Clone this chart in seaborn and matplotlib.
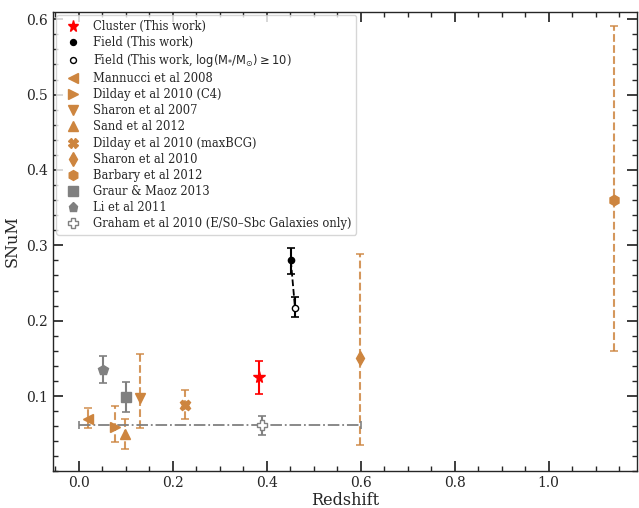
import numpy as np
import pandas as pd
import matplotlib
matplotlib.use("Agg")
import matplotlib.pyplot as plt
import seaborn as sns

# ---- data ----
labels = ["Cluster (This work)", "Field (This work)",
          r"Field (This work, $\mathrm{log(M_{*}/M_{\odot})\geq 10}$)",
          "Mannucci et al 2008", "Dilday et al 2010 (C4)", "Sharon et al 2007",
          "Sand et al 2012", "Dilday et al 2010 (maxBCG)", "Sharon et al 2010",
          "Barbary et al 2012", "Graur & Maoz 2013", "Li et al 2011",
          "Graham et al 2010 (E/S0\u2013Sbc Galaxies only)"]
z = [0.383, 0.451, 0.460, 0.020, 0.077, 0.130, 0.099, 0.225, 0.598, 1.138, 0.100, 0.052, 0.389]
snum = [0.125, 0.280, 0.217, 0.069, 0.059, 0.097, 0.049, 0.088, 0.150, 0.360, 0.099, 0.135, 0.061]
err_lo = [0.103, 0.262, 0.205, 0.057, 0.039, 0.058, 0.030, 0.069, 0.035, 0.160, 0.079, 0.117, 0.048]
err_hi = [0.147, 0.297, 0.232, 0.084, 0.087, 0.156, 0.069, 0.108, 0.289, 0.591, 0.119, 0.153, 0.074]
graham_zrange = [0.0, 0.6]

markers = ['*', 'o', 'o', '<', '>', 'v', '^', 'X', 'd', 'h', 's', 'p', 'P']
sizes = [8.5, 4.5, 4.5, 7, 7, 7.5, 7, 7.5, 7, 7.5, 7, 7, 7.5]
ORANGE = '#CD853F'
GRAY = '#808080'
colors = ['red', 'black', 'black'] + [ORANGE] * 7 + [GRAY, GRAY, GRAY]
faces = ['red', 'black', 'white'] + [ORANGE] * 7 + [GRAY, GRAY, 'white']

sns.set_theme(style="ticks")
plt.rcParams['font.family'] = ['DejaVu Serif']
plt.rcParams['mathtext.fontset'] = 'dejavusans'

fig, ax = plt.subplots(figsize=(6.39, 5.08), dpi=100)

# connecting dashed line for field points
sns.lineplot(x=z[1:3], y=snum[1:3], ax=ax, color='black', linestyle='--', lw=1.3, zorder=2)

for i in range(len(z)):
    yerr = [[snum[i] - err_lo[i]], [err_hi[i] - snum[i]]]
    if i < 3:
        ls, ecol, alpha = '-', colors[i], 1.0
    elif colors[i] == ORANGE:
        ls, ecol, alpha = '--', ORANGE, 0.85
    else:
        ls, ecol, alpha = '-', GRAY, 1.0
    eb = ax.errorbar([z[i]], [snum[i]], yerr=yerr, fmt='none', ecolor=ecol,
                     capsize=3, elinewidth=1.5, capthick=1.2, alpha=alpha, zorder=3)
    eb[-1][0].set_linestyle(ls)
    if i == len(z) - 1:
        xerr = [[z[i] - graham_zrange[0]], [graham_zrange[1] - z[i]]]
        eb2 = ax.errorbar([z[i]], [snum[i]], xerr=xerr, fmt='none', ecolor=GRAY,
                          capsize=3, elinewidth=1.3, capthick=1.2, zorder=3)
        eb2[-1][0].set_linestyle('-.')
    ax.plot([z[i]], [snum[i]], linestyle='none', marker=markers[i], ms=sizes[i],
            mfc=faces[i], mec=colors[i], mew=1.0, label=labels[i], zorder=4)

ax.set_xlim(-0.055, 1.188)
ax.set_ylim(0.0, 0.61)
ax.set_xlabel("Redshift", fontsize=11.5, labelpad=1)
ax.set_ylabel("SNuM", fontsize=11.5)
ax.xaxis.set_major_locator(matplotlib.ticker.MultipleLocator(0.2))
ax.xaxis.set_minor_locator(matplotlib.ticker.MultipleLocator(0.05))
ax.yaxis.set_major_locator(matplotlib.ticker.MultipleLocator(0.1))
ax.yaxis.set_minor_locator(matplotlib.ticker.MultipleLocator(0.02))
ax.set_yticks([0.1, 0.2, 0.3, 0.4, 0.5, 0.6])
ax.tick_params(which='both', direction='in', top=True, right=True, labelsize=10)
ax.tick_params(which='major', length=7)
ax.tick_params(which='minor', length=3.5)
for s in ax.spines.values():
    s.set_linewidth(1.0)

leg = ax.legend(loc='upper left', fontsize=8.3, frameon=True, borderaxespad=0.3,
                handletextpad=0.8, labelspacing=0.27, markerscale=0.95)

fig.subplots_adjust(left=0.083, right=0.997, bottom=0.072, top=0.977)
fig.savefig("out.png", dpi=100)
